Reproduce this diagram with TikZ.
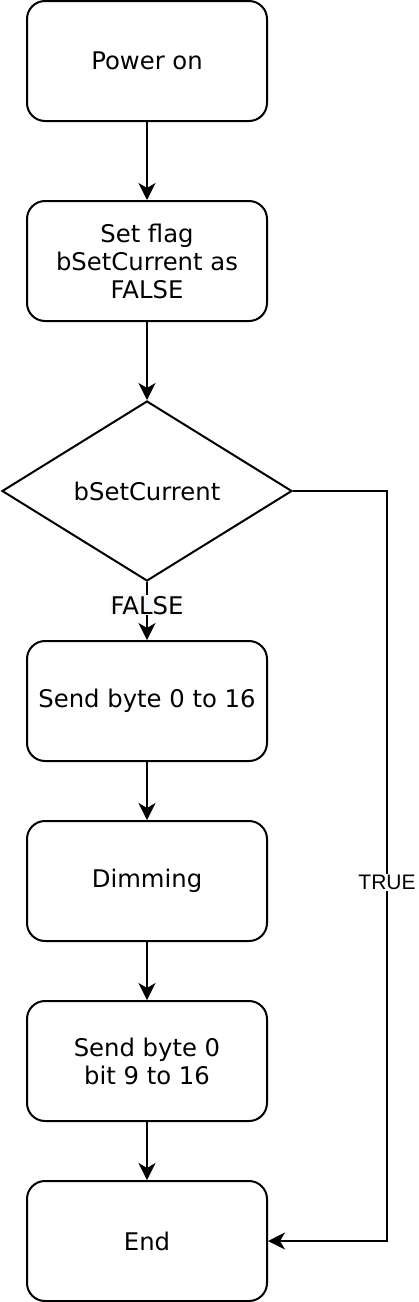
\documentclass[tikz,border=0pt]{standalone}
\usepackage{fontspec}
\setmainfont{DejaVu Sans}
\newfontfamily\lblfont{Liberation Sans}
\usetikzlibrary{shapes.geometric,arrows.meta}
\begin{document}
\begin{tikzpicture}[x=1pt,y=-1pt,
  every node/.style={font=\fontsize{24.3}{28}\selectfont},
  stepbox/.style={draw, line width=2pt, rounded corners=18pt, fill=white,
    minimum width=240pt, minimum height=120pt, align=center, inner sep=0pt},
  decision/.style={draw, line width=2pt, diamond, aspect=1.6, fill=white,
    minimum width=290pt, minimum height=180pt, inner sep=0pt},
  conn/.style={line width=2pt, -{Stealth[length=17pt,width=17pt,inset=5pt]}},
  lbl/.style={fill=white, inner sep=1pt}]
\useasboundingbox (0,0) rectangle (418,1302);
\node[stepbox] (p) at (147,61) {Power on};
\node[stepbox] (s) at (147,261) {Set flag\\bSetCurrent as\\FALSE};
\node[decision] (d) at (147,491) {bSetCurrent};
\node[stepbox] (b) at (147,701) {Send byte 0 to 16};
\node[stepbox] (m) at (147,881) {Dimming};
\node[stepbox] (c) at (147,1061) {Send byte 0\\bit 9 to 16};
\node[stepbox] (e) at (147,1241) {End};
\coordinate (t1) at (387,491);
\coordinate (t2) at (387,1241);
\draw[conn] (p) -- (s);
\draw[conn] (s) -- (d);
\draw[conn] (d) -- node[pos=0.4, fill={rgb,255:red,248;green,249;blue,250}, inner sep=1pt] {FALSE} (b);
\draw[conn] (b) -- (m);
\draw[conn] (m) -- (c);
\draw[conn] (c) -- (e);
\draw[conn] (d.east) -- (t1) -- node[pos=0.522, lbl, font=\lblfont\fontsize{21}{24}\selectfont] {TRUE} (t2) -- (e.east);
\end{tikzpicture}
\end{document}
